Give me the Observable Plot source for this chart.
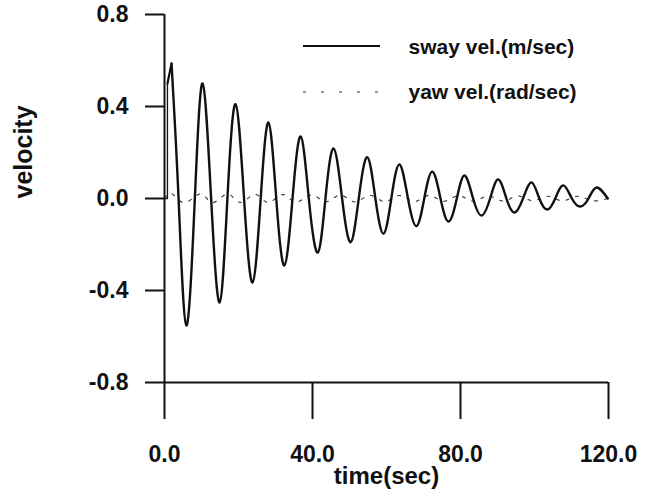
<!DOCTYPE html>
<html>
<head>
<meta charset="utf-8">
<script src="https://cdn.jsdelivr.net/npm/d3@7"></script>
<script src="https://cdn.jsdelivr.net/npm/@observablehq/plot@0.6"></script>
<style>
  html, body { margin: 0; padding: 0; background: #fff; }
  #chart { width: 658px; height: 502px; }
</style>
</head>
<body>
<div id="chart"></div>
<script>
// ---- data ----
const seriesNames = ["sway vel.(m/sec)", "yaw vel.(rad/sec)"];
const xLabel = "time(sec)";
const yLabel = "velocity";
const xTicks = [0, 40, 80, 120];
const yTicks = [-0.8, -0.4, 0.0, 0.4, 0.8];

// sway velocity: start-up, then peaks / zero crossings / troughs
const swayT = [0, 0.8, 0.8, 1.9, 3.8, 5.9, 8.2, 10.3, 12.6, 14.9, 17.0, 19.2, 21.5, 23.8, 26.0,
  28.1, 30.2, 32.4, 34.6, 36.8, 39.0, 41.4, 43.5, 45.7, 48.0, 50.3, 52.5, 54.8, 57.0, 59.2,
  61.3, 63.5, 65.8, 68.1, 70.2, 72.4, 74.6, 76.8, 79.0, 81.1, 83.4, 85.7, 88.0, 90.2, 92.4,
  94.6, 96.9, 99.2, 101.3, 103.5, 105.6, 107.8, 110.1, 112.4, 114.6, 116.8, 119.8];
const swayV = [0, 0, 0.50, 0.587, 0, -0.552, 0, 0.50, 0, -0.452, 0, 0.41, 0, -0.365, 0,
  0.33, 0, -0.291, 0, 0.27, 0, -0.235, 0, 0.218, 0, -0.19, 0, 0.18, 0, -0.153,
  0, 0.148, 0, -0.12, 0, 0.117, 0, -0.10, 0, 0.10, 0, -0.074, 0, 0.083, 0,
  -0.061, 0, 0.07, 0, -0.048, 0, 0.057, 0, -0.035, 0, 0.048, 0];

// yaw velocity: small oscillation
const yawT = [0, 2.1, 5.5, 9.8, 13.0, 17.0, 20.5, 24.5, 28.0, 32.0, 35.5, 39.8, 43.5, 47.5,
  51.5, 55.5, 59.5, 63.5, 67.5, 71.5, 75.5, 79.5, 83.5, 87.5, 91.5, 95.5, 99.5, 103.5,
  107.5, 111.5, 115.5, 119.8];
const yawV = [0, 0.02, -0.018, 0.02, -0.018, 0.019, -0.017, 0.018, -0.017, 0.017, -0.016, 0.016,
  -0.015, 0.015, -0.015, 0.014, -0.014, 0.013, -0.013, 0.013, -0.012, 0.012, -0.012, 0.011,
  -0.011, 0.011, -0.010, 0.010, -0.010, 0.010, -0.009, 0.0];

const sway = swayT.map((t, i) => ({t, v: swayV[i]}));
const yaw = yawT.map((t, i) => ({t, v: yawV[i]}));

const fmt = d => d.toFixed(1);
const ink = "#111";
const font = "'Liberation Sans', Arial, Helvetica, sans-serif";

const chart = Plot.plot({
  width: 658,
  height: 502,
  marginLeft: 164,
  marginRight: 50,
  marginTop: 14,
  marginBottom: 120,
  style: {fontFamily: font, fontWeight: "bold", fontSize: "23px", color: ink, background: "#fff"},
  x: {domain: [0, 120]},
  y: {domain: [-0.8, 0.8]},
  marks: [
    Plot.axisX({ticks: xTicks, tickFormat: fmt, tickSize: 37, tickPadding: 26, label: null,
      stroke: ink, strokeWidth: 2, fontSize: 23, fill: ink}),
    Plot.axisY({ticks: yTicks, tickFormat: fmt, tickSize: 19, tickPadding: 17, label: null,
      stroke: ink, strokeWidth: 2, fontSize: 23, fill: ink}),
    Plot.ruleX([0], {y1: -0.8, y2: 0.8, stroke: ink, strokeWidth: 2}),
    Plot.ruleY([-0.8], {x1: 0, x2: 120, stroke: ink, strokeWidth: 2}),
    Plot.text([xLabel], {frameAnchor: "bottom", dy: 101, fontSize: 24, fill: ink}),
    Plot.text([yLabel], {frameAnchor: "left", dx: -141, rotate: -90, fontSize: 25, fill: ink}),
    // series
    Plot.line(yaw, {x: "t", y: "v", stroke: "#333", strokeWidth: 1.1, strokeDasharray: "3,7", curve: "natural"}),
    Plot.line(sway.slice(0, 3), {x: "t", y: "v", stroke: ink, strokeWidth: 1.3}),
    Plot.line(sway.slice(2, 4), {x: "t", y: "v", stroke: ink, strokeWidth: 2.2}),
    Plot.line(sway.slice(3), {x: "t", y: "v", stroke: ink, strokeWidth: 2.4, curve: "natural"}),
    // legend labels
    Plot.text([seriesNames[0]], {frameAnchor: "top-left", dx: 244, dy: 33, textAnchor: "start", lineAnchor: "middle", fontSize: 21, fill: ink}),
    Plot.text([seriesNames[1]], {frameAnchor: "top-left", dx: 244, dy: 78, textAnchor: "start", lineAnchor: "middle", fontSize: 21, fill: ink})
  ]
});

document.getElementById("chart").appendChild(chart);

// legend samples
const svg = d3.select(chart);
const lg = svg.append("g").attr("class", "legend-samples");
lg.append("line").attr("x1", 303).attr("x2", 380).attr("y1", 46).attr("y2", 46)
  .attr("stroke", ink).attr("stroke-width", 2);
lg.append("line").attr("x1", 303).attr("x2", 380).attr("y1", 92).attr("y2", 92)
  .attr("stroke", "#333").attr("stroke-width", 1.1).attr("stroke-dasharray", "3,15");
</script>
</body>
</html>
